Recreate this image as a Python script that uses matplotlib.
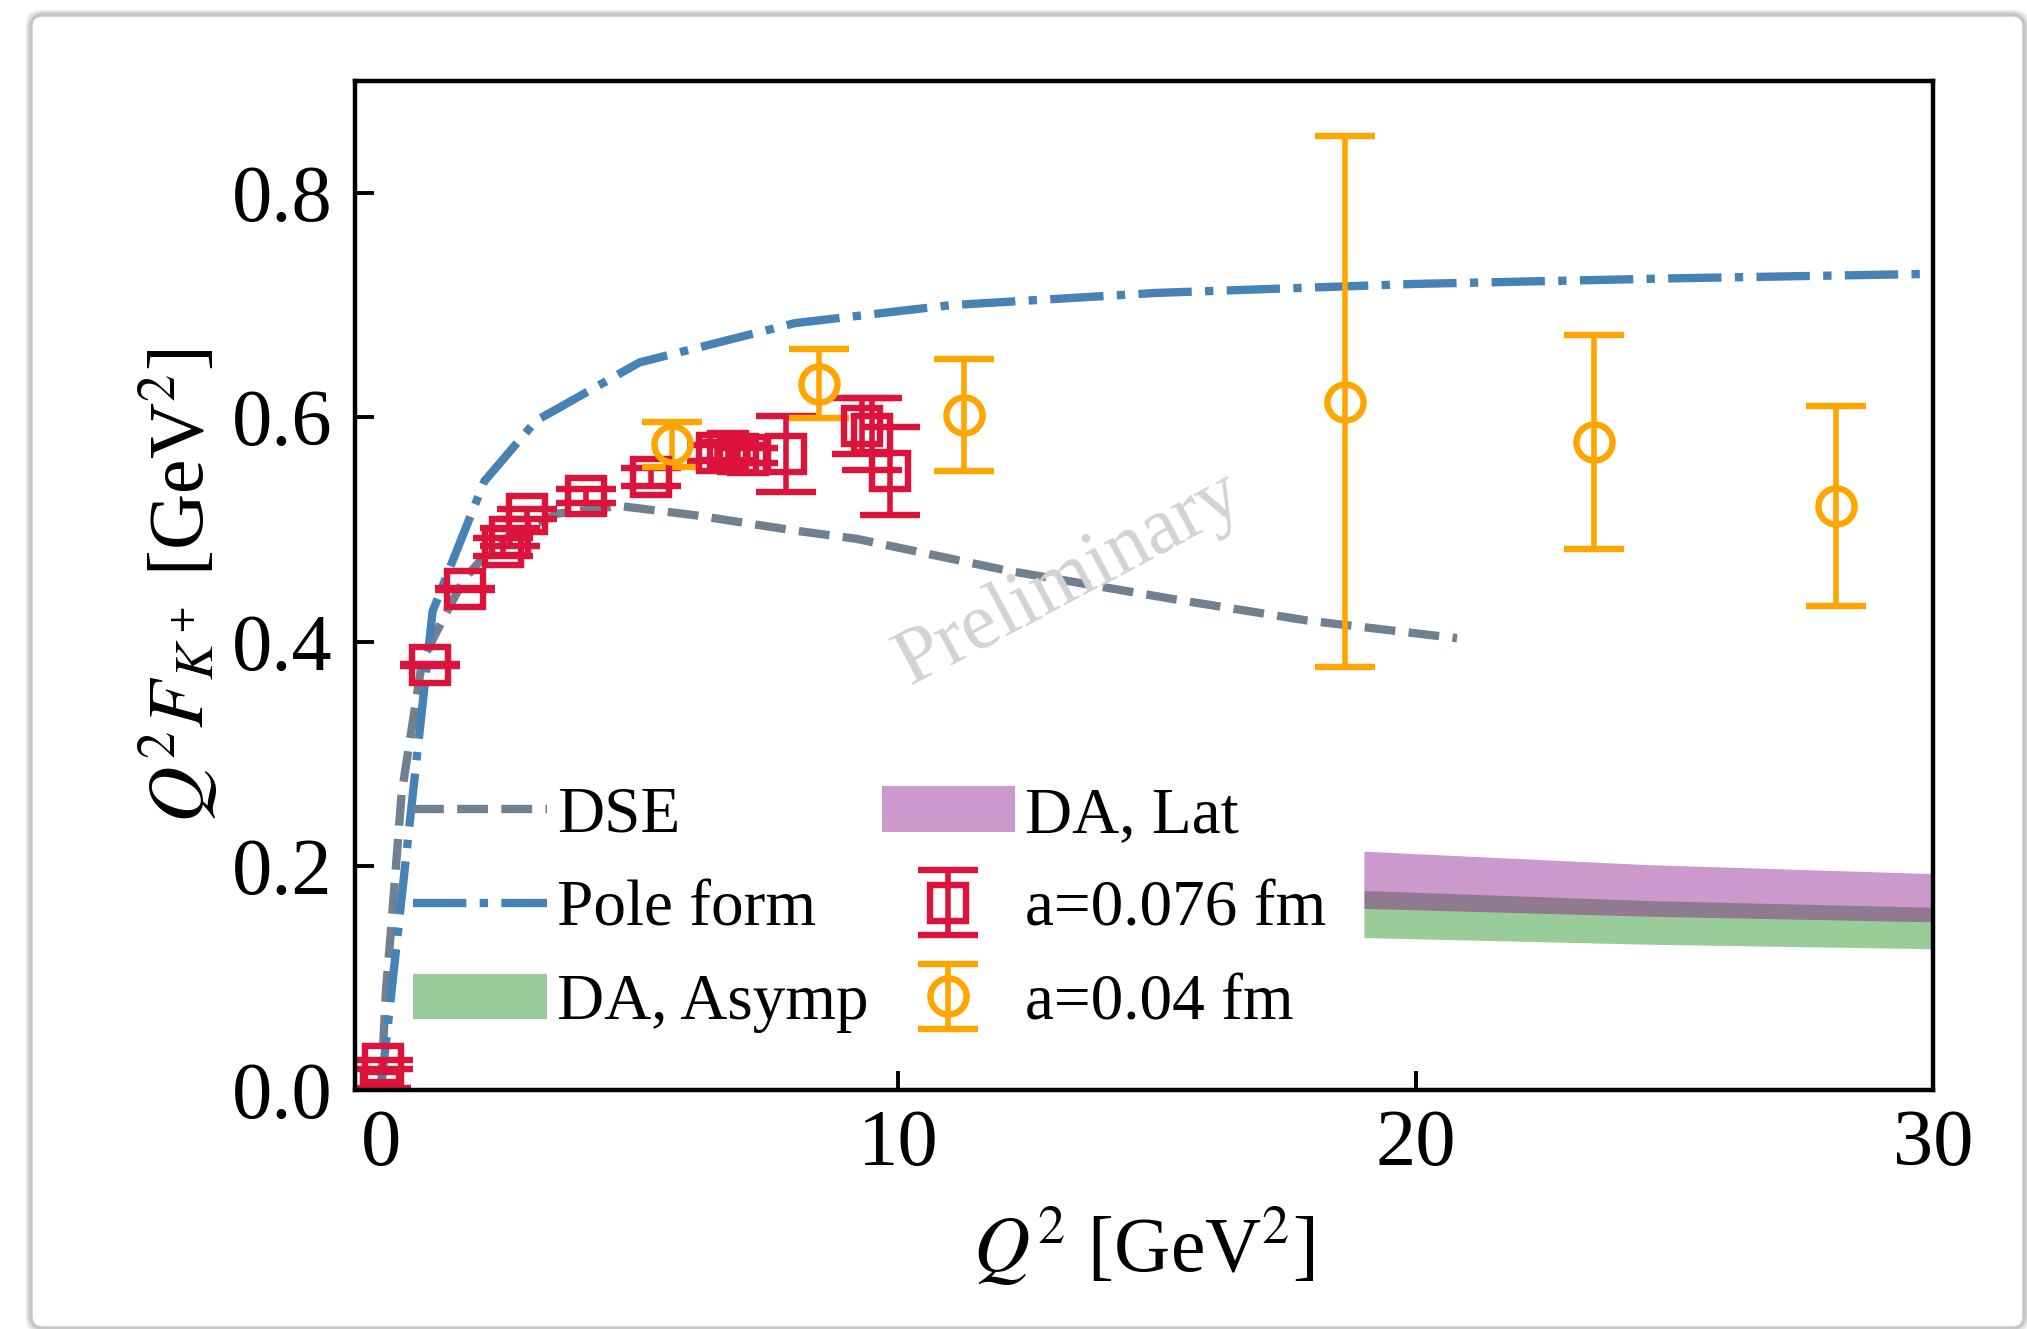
import numpy as np
import matplotlib
matplotlib.use('Agg')
import matplotlib.pyplot as plt
from matplotlib.patches import FancyBboxPatch
from matplotlib.transforms import IdentityTransform

plt.rcParams['font.family'] = ['Liberation Serif', 'DejaVu Serif']
plt.rcParams['mathtext.fontset'] = 'stix'

# ---------------- data ----------------
# DSE curve
dse_x = [0, 0.1, 0.2, 0.4, 0.8, 1.2, 1.6, 2.2, 3.4, 4.6, 6.1, 8.0, 9.2, 12.1, 15.3, 17.9, 20.8]
dse_y = [0, 0.09, 0.145, 0.264, 0.383, 0.42, 0.455, 0.487, 0.514, 0.521, 0.5125, 0.499,
         0.4916, 0.4634, 0.438, 0.4188, 0.403]

# pole form curve
pole_x = [0, 1, 2, 3, 5, 8, 11, 15, 20, 25, 30]
pole_y = [0, 0.427, 0.543, 0.597, 0.649, 0.684, 0.700, 0.711, 0.719, 0.724, 0.728]

# DA bands
band_x = [19, 24.5, 30]
asymp_lo = [0.136, 0.130, 0.126]
asymp_hi = [0.178, 0.169, 0.163]
lat_lo = [0.162, 0.155, 0.150]
lat_hi = [0.213, 0.201, 0.193]

# lattice a=0.076 fm
red_x = [0.0, 0.05, 0.95, 1.62, 2.37, 2.5, 2.82, 3.96, 5.23, 6.5, 6.7, 6.9, 7.1, 7.83, 9.3, 9.5, 9.85]
red_y = [0.0, 0.023, 0.379, 0.447, 0.484, 0.493, 0.514, 0.530, 0.547, 0.568, 0.570, 0.567,
         0.566, 0.567, 0.592, 0.585, 0.552]
red_err = [0.002, 0.004, 0.001, 0.001, 0.008, 0.008, 0.0045, 0.006, 0.008, 0.007, 0.008, 0.008,
           0.007, 0.034, 0.025, 0.032, 0.039]

# lattice a=0.04 fm
or_x = [5.62, 8.46, 11.28, 18.63, 23.45, 28.12]
or_y = [0.576, 0.630, 0.602, 0.614, 0.578, 0.521]
or_err = [0.020, 0.031, 0.050, 0.237, 0.095, 0.089]

xticks = [0, 10, 20, 30]
yticks = [0.0, 0.2, 0.4, 0.6, 0.8]

# ---------------- figure ----------------
fig = plt.figure(figsize=(10.135, 6.645), dpi=200)

# card frame with a soft shadow (behind the axes)
for k, a in enumerate([0.04, 0.05, 0.07, 0.09]):
    off = 4 - k
    sh = FancyBboxPatch((31 - off, 1 - off), 1993 + 2 * off, 1313 + 2 * off,
                        boxstyle='round,pad=0,rounding_size=14', transform=IdentityTransform(),
                        facecolor='none', edgecolor='black', linewidth=1.0, alpha=a, zorder=-3)
    fig.patches.append(sh)
card = FancyBboxPatch((31, 1), 1993, 1313, boxstyle='round,pad=0,rounding_size=12',
                      transform=IdentityTransform(), facecolor='white', edgecolor='#c6c6c6',
                      linewidth=1.2, zorder=-2)
fig.patches.append(card)

ax = fig.add_axes([355 / 2027, 1 - 1090 / 1329, 1578 / 2027, 1009 / 1329])
ax.set_facecolor('none')

l_dse, = ax.plot(dse_x, dse_y, '--', color='slategray', lw=3, label='DSE')
l_pole, = ax.plot(pole_x, pole_y, '-.', color='steelblue', lw=3, label='Pole form')

p_asymp = ax.fill_between(band_x, asymp_lo, asymp_hi, color='green', alpha=0.4, lw=0,
                          label='DA, Asymp')
p_lat = ax.fill_between(band_x, lat_lo, lat_hi, color='purple', alpha=0.4, lw=0,
                        label='DA, Lat')

e_red = ax.errorbar(red_x, red_y, yerr=red_err, fmt='s', ms=13, mfc='none', mec='crimson',
                    mew=2.3, ecolor='crimson', elinewidth=2, capsize=10.8, capthick=2,
                    label='a=0.076 fm')
e_or = ax.errorbar(or_x, or_y, yerr=or_err, fmt='o', ms=13, mfc='none', mec='orange',
                   mew=2.3, ecolor='orange', elinewidth=2, capsize=10.8, capthick=2,
                   label='a=0.04 fm')

ax.text(13.3, 0.455, 'Preliminary', color='lightgray', fontsize=29, rotation=28,
        ha='center', va='center')

ax.set_xlim(-0.5, 30)
ax.set_ylim(0, 0.9)
ax.set_xticks(xticks)
ax.set_yticks(yticks)
ax.tick_params(direction='in', length=7, width=1.4, labelsize=29)
ax.tick_params(axis='y', pad=8)
ax.tick_params(axis='x', pad=7)
for s in ax.spines.values():
    s.set_linewidth(1.6)

ax.set_xlabel(r'$Q^2$ [GeV$^2$]', fontsize=28, labelpad=8.5)
ax.set_ylabel(r'$Q^2F_{K^+}$ [GeV$^2$]', fontsize=28)

ax.legend(handles=[l_dse, l_pole, p_asymp, p_lat, e_red, e_or], ncol=2, loc='upper left',
          bbox_to_anchor=(0.037, 0.301), frameon=False, fontsize=23.5, borderpad=0,
          borderaxespad=0, handlelength=2.05, handletextpad=0.15, columnspacing=0.2,
          labelspacing=0.52, numpoints=1)

fig.savefig('out.png', dpi=200)
